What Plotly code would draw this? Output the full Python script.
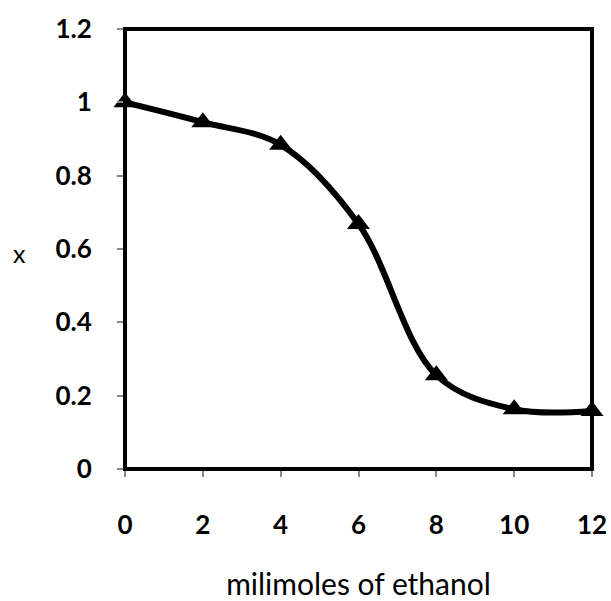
import plotly.graph_objects as go

# Ethanol amount (millimoles) and measured fraction x
ethanol_mmol = [0, 2, 4, 6, 8, 10, 12]
x_fraction = [1.0, 0.946, 0.884, 0.668, 0.256, 0.163, 0.158]

x_ticks = [0, 2, 4, 6, 8, 10, 12]
y_ticks = [0, 0.2, 0.4, 0.6, 0.8, 1, 1.2]
y_tick_text = ["0", "0.2", "0.4", "0.6", "0.8", "1", "1.2"]

FONT = "Lato, Open Sans, sans-serif"

fig = go.Figure()
fig.add_trace(go.Scatter(
    x=ethanol_mmol,
    y=x_fraction,
    mode="lines+markers",
    line=dict(color="black", width=6, shape="spline", smoothing=1.0),
    marker=dict(symbol="triangle-up", size=20, color="black"),
    cliponaxis=False,
    showlegend=False,
))

tick_font = dict(family=FONT, size=26, color="black", weight="bold")

fig.update_xaxes(
    range=[0, 12],
    tickvals=x_ticks,
    ticks="outside", ticklen=7, tickcolor="#888888", tickwidth=1.5,
    showline=True, linecolor="#888888", linewidth=1,
    showgrid=False, zeroline=False,
    tickfont=tick_font,
    ticklabelstandoff=26,
    automargin=False,
    title=dict(text="milimoles of ethanol",
               font=dict(family=FONT, size=30, color="black"),
               standoff=34),
)
fig.update_yaxes(
    range=[0, 1.2],
    tickvals=y_ticks, ticktext=y_tick_text,
    ticks="outside", ticklen=7, tickcolor="#888888", tickwidth=1.5,
    showline=True, linecolor="#888888", linewidth=1,
    showgrid=False, zeroline=False,
    tickfont=tick_font,
    ticklabelstandoff=20,
    automargin=False,
)

# Horizontal y-axis label
fig.add_annotation(text="x", xref="paper", yref="paper", x=-0.225, y=0.49,
                   xanchor="center", yanchor="middle", showarrow=False,
                   font=dict(family=FONT, size=25, color="black"))

# Heavy frame around the plotting area
fig.add_shape(type="rect", xref="paper", yref="paper", x0=0, y0=0, x1=1, y1=1,
              line=dict(color="black", width=4), layer="above")

fig.update_layout(
    width=611, height=601,
    margin=dict(l=125, r=19, t=29, b=132),
    paper_bgcolor="white", plot_bgcolor="white",
)

fig.write_html("out.html")
